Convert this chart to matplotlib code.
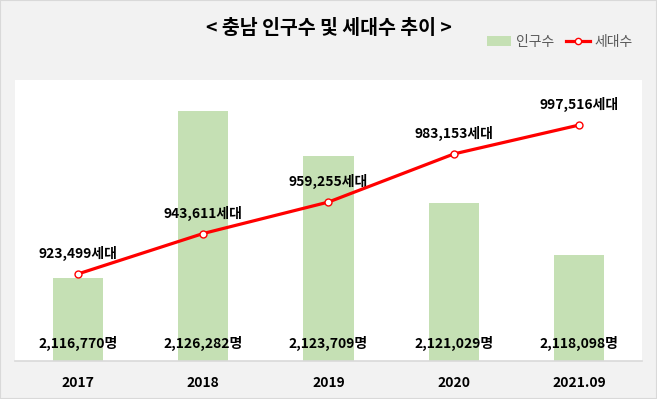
import matplotlib.pyplot as plt
from matplotlib.lines import Line2D
from matplotlib.patches import Patch, Rectangle

plt.rcParams['font.family'] = ['Noto Sans CJK KR', 'DejaVu Sans']

years = ['2017', '2018', '2019', '2020', '2021.09']
population = [2116770, 2126282, 2123709, 2121029, 2118098]
households = [923499, 943611, 959255, 983153, 997516]

bar_color = '#C5E0B4'
line_color = '#FF0000'

fig = plt.figure(figsize=(6.57, 3.99), dpi=100, facecolor='#F2F2F2')
fig.patches.append(Rectangle((0, 0), 1, 1, transform=fig.transFigure,
                             fill=False, edgecolor='#D9D9D9', linewidth=1.5))

W, H = 657, 399
ax = fig.add_axes([15 / W, 1 - 361 / H, 627 / W, 281 / H])
ax.set_facecolor('white')

x = list(range(len(years)))
ax.bar(x, population, width=0.4, color=bar_color, zorder=2)
ax.set_ylim(2112040, 2128050)
ax.set_xlim(-0.5, 4.5)
ax.set_yticks([])
ax.set_xticks(x)
ax.set_xticklabels(years, fontsize=10, fontweight='bold')
ax.tick_params(axis='x', length=0, pad=11)
for s in ['top', 'left', 'right']:
    ax.spines[s].set_visible(False)
ax.spines['bottom'].set_color('#D9D9D9')
ax.spines['bottom'].set_linewidth(1.2)

for i, v in enumerate(population):
    ax.annotate('{:,}명'.format(v), (i, 0.064), xycoords=('data', 'axes fraction'),
                ha='center', va='center', fontsize=10, fontweight='bold', zorder=5)

ax2 = ax.twinx()
ax2.plot(x, households, color=line_color, linewidth=2.3, marker='o', markersize=5,
         markerfacecolor='white', markeredgecolor=line_color, markeredgewidth=1, zorder=4)
ax2.set_ylim(880300, 1019870)
ax2.set_yticks([])
for s in ['top', 'left', 'right', 'bottom']:
    ax2.spines[s].set_visible(False)

for i, v in enumerate(households):
    ax2.annotate('{:,}세대'.format(v), (i, v), xytext=(0, 14.5), textcoords='offset points',
                 ha='center', va='center', fontsize=10, fontweight='bold')

fig.text(0.5, 1 - 28 / H, '< 충남 인구수 및 세대수 추이 >', ha='center', va='center',
         fontsize=14, fontweight='bold')

handles = [Patch(facecolor=bar_color, edgecolor='none'),
           Line2D([0], [0], color=line_color, linewidth=2.3, marker='o', markersize=4.5,
                  markerfacecolor='white', markeredgecolor=line_color)]
fig.legend(handles, ['인구수', '세대수'], loc='center right', bbox_to_anchor=(640 / W, 1 - 42 / H),
           ncol=2, frameon=False, fontsize=10, labelcolor='#595959', handlelength=1.7,
           handletextpad=0.35, columnspacing=0.9, borderpad=0)

fig.savefig('out.png', dpi=100, facecolor=fig.get_facecolor())
